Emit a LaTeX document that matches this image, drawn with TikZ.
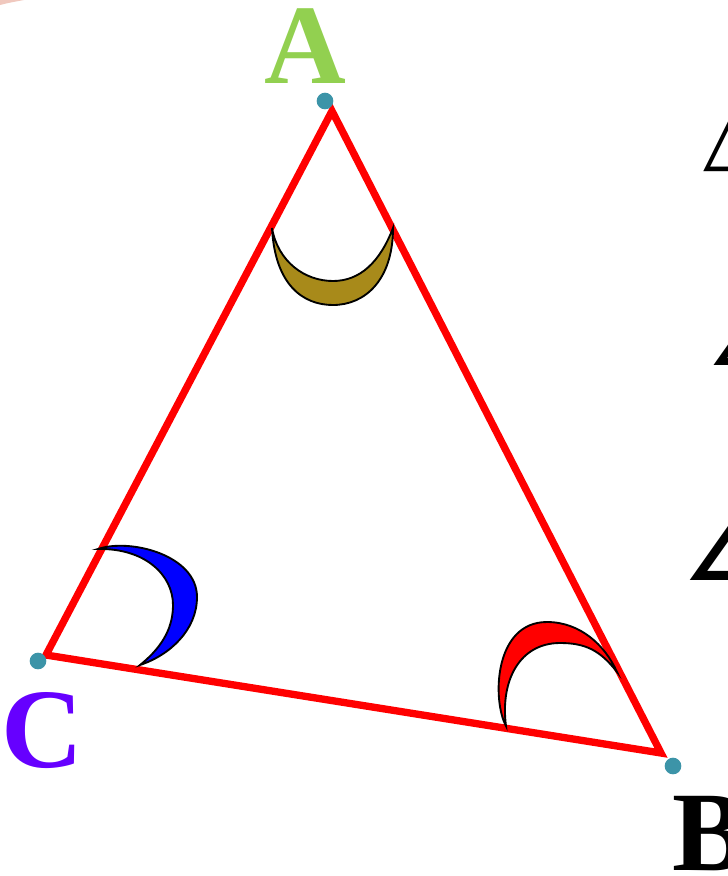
\documentclass[tikz,border=0pt]{standalone}
\usepackage{fontspec}
\usepackage{xcolor}
\usepackage{tikz}
\usetikzlibrary{positioning}
\newfontfamily\labelfont{Liberation Serif}
\newfontfamily\glyphfont{DejaVu Sans}
\definecolor{TriRed}{RGB}{255,0,0}
\definecolor{DotTeal}{RGB}{60,148,168}
\definecolor{LabelGreen}{RGB}{146,208,80}
\definecolor{LabelPurple}{RGB}{102,0,255}
\definecolor{ArcOlive}{RGB}{168,138,26}
\definecolor{ArcBlue}{RGB}{0,0,255}
\definecolor{SlidePink}{RGB}{240,200,190}

\begin{document}
\begin{tikzpicture}[
  x=0.75pt, y=-0.75pt,
  side/.style={draw=TriRed, line width=5.5pt, line join=miter},
  dot/.style={circle, fill=DotTeal, inner sep=0pt, minimum size=12.5pt},
  vlabel/.style={font=\labelfont\bfseries\fontsize{85}{85}\selectfont, inner sep=0pt, anchor=base},
  crescent/.style={draw=black, line width=1.4pt},
  cut/.style={font=\glyphfont\bfseries\fontsize{62}{62}\selectfont, inner sep=0pt, anchor=south west}
]
\useasboundingbox (0,0) rectangle (728,876);
\clip (0,0) rectangle (728,876);

% slide remnants
\fill[SlidePink] (0,0) -- (0,5) .. controls (8,3) .. (24,0) -- cycle;
\node[cut, font=\glyphfont\fontsize{62}{62}\selectfont] (tri) at (703,172) {△};
\node[cut, font=\glyphfont\bfseries\fontsize{44}{44}\selectfont] (angA) at (709,366) {∠};
\node[cut, font=\glyphfont\bfseries\fontsize{56}{56}\selectfont] (angB) at (684,581) {∠};

% triangle
\coordinate (A) at (332,111);
\coordinate (B) at (661,753);
\coordinate (C) at (46,655);
\draw[side] (A) -- (B) -- (C) -- cycle;

% angle marks
\filldraw[crescent, fill=ArcOlive] (272,228)
  .. controls (275,285) and (303,305) .. (333,305)
  .. controls (365,305) and (393,280) .. (393,228)
  .. controls (380,262) and (360,281) .. (333,281)
  .. controls (305,281) and (278,262) .. (272,228) -- cycle;
\filldraw[crescent, fill=ArcBlue] (98,549)
  .. controls (130,538) and (197,555) .. (197,597)
  .. controls (197,630) and (170,655) .. (140,665)
  .. controls (165,645) and (173,625) .. (173,605)
  .. controls (173,575) and (145,548) .. (98,549) -- cycle;
\filldraw[crescent, fill=TriRed] (506,726)
  .. controls (492,700) and (494,622) .. (547,622)
  .. controls (580,622) and (605,645) .. (617,672)
  .. controls (600,650) and (585,643) .. (560,643)
  .. controls (520,643) and (500,680) .. (506,726) -- cycle;

% vertex dots
\node[dot] (dotA) at (325,101) {};
\node[dot] (dotB) at (673,766) {};
\node[dot] (dotC) at (38,661) {};

% labels
\node[vlabel, text=LabelGreen] (labA) at (305,83) {A};
\node[vlabel, text=LabelPurple] (labC) at (42,767) {C};
\node[vlabel, text=black] (labB) at (710,870) {B};
\end{tikzpicture}
\end{document}
